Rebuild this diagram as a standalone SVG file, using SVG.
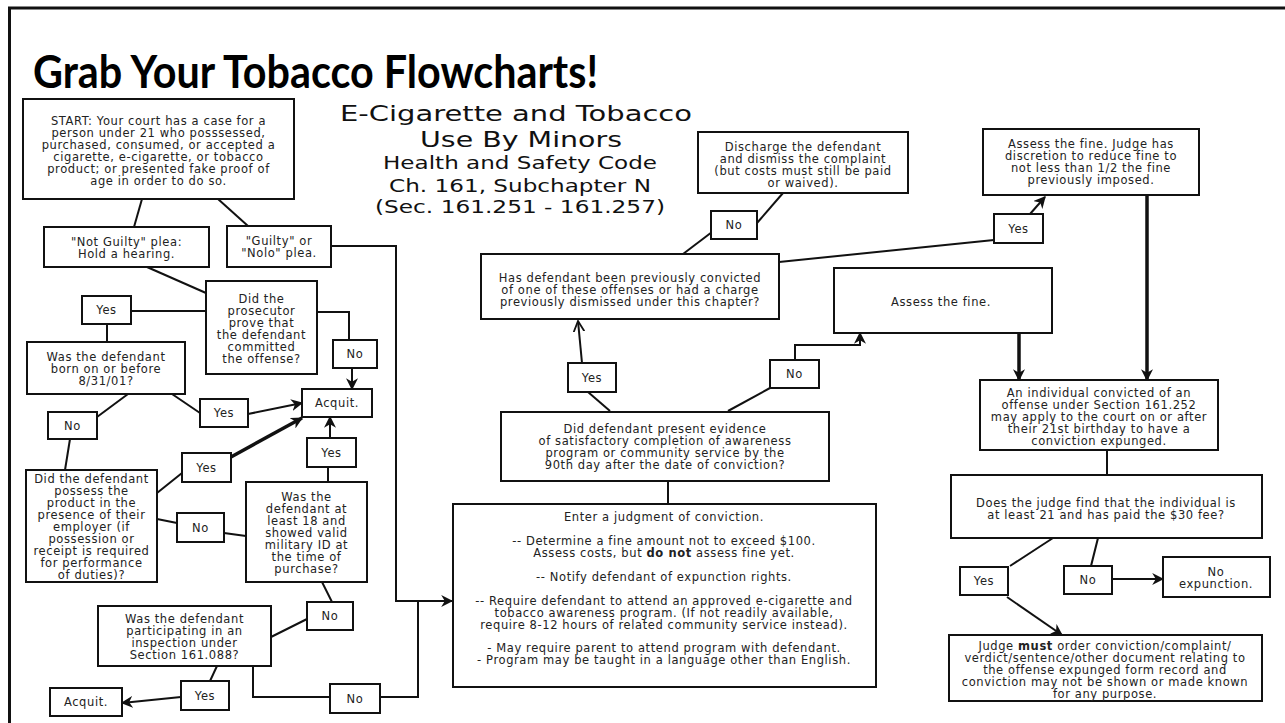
<svg xmlns="http://www.w3.org/2000/svg" width="1285" height="723" viewBox="0 0 1285 723">
<style>
.box{fill:#fff;stroke:#111;stroke-width:2}
.t{font-family:"DejaVu Sans",Verdana,sans-serif;font-size:11.5px;letter-spacing:0.6px;text-anchor:middle;fill:#222}
.ln{stroke:#111;stroke-width:2;fill:none}
.thick{stroke-width:3.5}
.sub{font-family:"DejaVu Sans",Verdana,sans-serif;text-anchor:middle;fill:#111}
</style>
<defs>
<marker id="ah" viewBox="0 0 10 10" refX="9" refY="5" markerWidth="12" markerHeight="12" markerUnits="userSpaceOnUse" orient="auto"><path d="M0,0 L10,5 L0,10 L3,5 z" fill="#111"/></marker>
<marker id="ao" viewBox="0 0 10 10" refX="9" refY="5" markerWidth="12" markerHeight="12" markerUnits="userSpaceOnUse" orient="auto"><path d="M0,0.5 L9,5 L0,9.5" fill="none" stroke="#111" stroke-width="1.5"/></marker>
</defs>
<rect width="1285" height="723" fill="#fff"/>
<path d="M9.5,723 V8 H1285" fill="none" stroke="#111" stroke-width="3"/>
<text x="33" y="88" font-family="Lato,'Liberation Sans',Arial,sans-serif" font-weight="bold" font-size="45" textLength="565" lengthAdjust="spacingAndGlyphs" fill="#000">Grab Your Tobacco Flowcharts!</text>
<g id="heading">
<text class="sub" x="516" y="121" font-size="22" textLength="352" lengthAdjust="spacingAndGlyphs">E-Cigarette and Tobacco</text>
<text class="sub" x="521" y="147" font-size="22" textLength="202" lengthAdjust="spacingAndGlyphs">Use By Minors</text>
<text class="sub" x="520" y="169" font-size="18" textLength="274" lengthAdjust="spacingAndGlyphs">Health and Safety Code</text>
<text class="sub" x="520" y="192" font-size="18" textLength="262" lengthAdjust="spacingAndGlyphs">Ch. 161, Subchapter N</text>
<text class="sub" x="520" y="213" font-size="18" textLength="290" lengthAdjust="spacingAndGlyphs">(Sec. 161.251 - 161.257)</text>
</g>
<g id="connectors">
<line class="ln" x1="142" y1="199" x2="134" y2="227"/>
<line class="ln" x1="218" y1="199" x2="248" y2="226"/>
<polyline class="ln" points="331,246 396,246 396,601 452,601" marker-end="url(#ah)"/>
<line class="ln" x1="147" y1="267" x2="206" y2="293"/>
<line class="ln" x1="206" y1="311" x2="131" y2="311"/>
<line class="ln" x1="107" y1="324" x2="107" y2="342"/>
<polyline class="ln" points="317,312 349,312 349,340"/>
<line class="ln" x1="352" y1="368" x2="352" y2="389" marker-end="url(#ah)"/>
<line class="ln" x1="172" y1="394" x2="200" y2="413"/>
<line class="ln" x1="248" y1="414" x2="302" y2="403" marker-end="url(#ah)"/>
<line class="ln" x1="128" y1="394" x2="97" y2="417"/>
<line class="ln" x1="70" y1="439" x2="65" y2="470"/>
<line class="ln" x1="157" y1="493" x2="182" y2="473"/>
<line class="ln thick" x1="231" y1="457" x2="302" y2="418" marker-end="url(#ah)"/>
<line class="ln" x1="157" y1="519" x2="177" y2="523"/>
<line class="ln" x1="224" y1="533" x2="246" y2="536"/>
<line class="ln" x1="328" y1="482" x2="328" y2="467"/>
<line class="ln" x1="330" y1="438" x2="330" y2="417" marker-end="url(#ah)"/>
<line class="ln" x1="322" y1="582" x2="332" y2="602"/>
<line class="ln" x1="307" y1="619" x2="271" y2="637"/>
<line class="ln" x1="217" y1="666" x2="210" y2="681"/>
<line class="ln" x1="181" y1="697" x2="122" y2="703" marker-end="url(#ah)"/>
<polyline class="ln" points="253,666 253,697 330,697"/>
<polyline class="ln" points="380,697 418,697 418,601"/>
<line class="ln" x1="683" y1="254" x2="712" y2="232"/>
<line class="ln" x1="757" y1="223" x2="783" y2="193"/>
<line class="ln" x1="779" y1="262" x2="994" y2="240"/>
<line class="ln" x1="1030" y1="214" x2="1045" y2="197" marker-end="url(#ah)"/>
<line class="ln thick" x1="1147" y1="195" x2="1147" y2="380" marker-end="url(#ah)"/>
<line class="ln thick" x1="1019" y1="333" x2="1019" y2="380" marker-end="url(#ah)"/>
<line class="ln" x1="728" y1="411" x2="770" y2="388"/>
<polyline class="ln" points="795,360 795,345 860,345 860,333" marker-end="url(#ah)"/>
<line class="ln" x1="582" y1="363" x2="578" y2="321" marker-end="url(#ao)"/>
<line class="ln" x1="610" y1="411" x2="588" y2="392"/>
<line class="ln" x1="668" y1="481" x2="668" y2="504"/>
<line class="ln" x1="1107" y1="450" x2="1107" y2="475"/>
<line class="ln" x1="1053" y1="538" x2="1010" y2="566"/>
<line class="ln" x1="1098" y1="538" x2="1091" y2="566"/>
<line class="ln" x1="1112" y1="579" x2="1163" y2="579" marker-end="url(#ah)"/>
<line class="ln" x1="1007" y1="597" x2="1062" y2="635" marker-end="url(#ah)"/>
</g>
<g id="start"><rect class="box" x="23" y="99" width="271" height="100"/>
<text class="t"><tspan x="158.5" y="124.5">START: Your court has a case for a</tspan><tspan x="158.5" y="136.5">person under 21 who posssessed,</tspan><tspan x="158.5" y="148.5">purchased, consumed, or accepted a</tspan><tspan x="158.5" y="160.5">cigarette, e-cigarette, or tobacco</tspan><tspan x="158.5" y="172.5">product; or presented fake proof of</tspan><tspan x="158.5" y="184.5">age in order to do so.</tspan></text></g>
<g id="notguilty"><rect class="box" x="44" y="227" width="165" height="40"/>
<text class="t"><tspan x="126.5" y="246">"Not Guilty" plea:</tspan><tspan x="126.5" y="258">Hold a hearing.</tspan></text></g>
<g id="guilty"><rect class="box" x="227" y="226" width="104" height="41"/>
<text class="t"><tspan x="279" y="245">"Guilty" or</tspan><tspan x="279" y="257">"Nolo" plea.</tspan></text></g>
<g id="prosecutor"><rect class="box" x="206" y="281" width="111" height="93"/>
<text class="t"><tspan x="261.5" y="302.5">Did the</tspan><tspan x="261.5" y="314.5">prosecutor</tspan><tspan x="261.5" y="326.5">prove that</tspan><tspan x="261.5" y="338.5">the defendant</tspan><tspan x="261.5" y="350.5">committed</tspan><tspan x="261.5" y="362.5">the offense?</tspan></text></g>
<g id="yes1"><rect class="box" x="82" y="296" width="49" height="28"/><text class="t" x="106.5" y="314">Yes</text></g>
<g id="born"><rect class="box" x="27" y="342" width="158" height="52"/>
<text class="t"><tspan x="106" y="360.5">Was the defendant</tspan><tspan x="106" y="372.5">born on or before</tspan><tspan x="106" y="384.5">8/31/01?</tspan></text></g>
<g id="no1"><rect class="box" x="333" y="340" width="44" height="28"/><text class="t" x="355" y="358">No</text></g>
<g id="acquit1"><rect class="box" x="302" y="389" width="70" height="28"/><text class="t" x="337" y="407">Acquit.</text></g>
<g id="yes2"><rect class="box" x="200" y="399" width="48" height="28"/><text class="t" x="224" y="417">Yes</text></g>
<g id="no2"><rect class="box" x="48" y="412" width="49" height="27"/><text class="t" x="72.5" y="429.5">No</text></g>
<g id="possess"><rect class="box" x="26" y="470" width="131" height="112"/>
<text class="t"><tspan x="91.5" y="482.5">Did the defendant</tspan><tspan x="91.5" y="494.5">possess the</tspan><tspan x="91.5" y="506.5">product in the</tspan><tspan x="91.5" y="518.5">presence of  their</tspan><tspan x="91.5" y="530.5">employer (if</tspan><tspan x="91.5" y="542.5">possession or</tspan><tspan x="91.5" y="554.5">receipt is required</tspan><tspan x="91.5" y="566.5">for performance</tspan><tspan x="91.5" y="578.5">of duties)?</tspan></text></g>
<g id="yes3"><rect class="box" x="182" y="453" width="49" height="29"/><text class="t" x="206.5" y="471.5">Yes</text></g>
<g id="no3"><rect class="box" x="177" y="513" width="47" height="29"/><text class="t" x="200.5" y="531.5">No</text></g>
<g id="military"><rect class="box" x="246" y="482" width="121" height="100"/>
<text class="t"><tspan x="306.5" y="500.5">Was the</tspan><tspan x="306.5" y="512.5">defendant at</tspan><tspan x="306.5" y="524.5">least 18 and</tspan><tspan x="306.5" y="536.5">showed valid</tspan><tspan x="306.5" y="548.5">military ID at</tspan><tspan x="306.5" y="560.5">the time of</tspan><tspan x="306.5" y="572.5">purchase?</tspan></text></g>
<g id="yes4"><rect class="box" x="307" y="438" width="49" height="29"/><text class="t" x="331.5" y="456.5">Yes</text></g>
<g id="no4"><rect class="box" x="307" y="602" width="46" height="28"/><text class="t" x="330" y="620">No</text></g>
<g id="inspection"><rect class="box" x="98" y="606" width="173" height="60"/>
<text class="t"><tspan x="184.5" y="622.5">Was the defendant</tspan><tspan x="184.5" y="634.5">participating in an</tspan><tspan x="184.5" y="646.5">inspection under</tspan><tspan x="184.5" y="658.5">Section 161.088?</tspan></text></g>
<g id="yes5"><rect class="box" x="181" y="681" width="48" height="29"/><text class="t" x="205" y="699.5">Yes</text></g>
<g id="acquit2"><rect class="box" x="50" y="688" width="72" height="28"/><text class="t" x="86" y="706">Acquit.</text></g>
<g id="no5"><rect class="box" x="330" y="684" width="50" height="29"/><text class="t" x="355" y="702.5">No</text></g>
<g id="prior"><rect class="box" x="481" y="254" width="298" height="65"/>
<text class="t"><tspan x="630" y="281.5">Has defendant been previously convicted</tspan><tspan x="630" y="293.5">of one of these offenses or had a charge</tspan><tspan x="630" y="305.5">previously dismissed under this chapter?</tspan></text></g>
<g id="discharge"><rect class="box" x="698" y="132" width="210" height="61"/>
<text class="t"><tspan x="803" y="150.5">Discharge the defendant</tspan><tspan x="803" y="162.5">and dismiss the complaint</tspan><tspan x="803" y="174.5">(but costs must still be paid</tspan><tspan x="803" y="186.5">or waived).</tspan></text></g>
<g id="notop"><rect class="box" x="711" y="211" width="46" height="28"/><text class="t" x="734" y="229">No</text></g>
<g id="yestop"><rect class="box" x="994" y="214" width="49" height="29"/><text class="t" x="1018.5" y="232.5">Yes</text></g>
<g id="assessjudge"><rect class="box" x="983" y="129" width="216" height="66"/>
<text class="t"><tspan x="1091" y="147.5">Assess the fine. Judge has</tspan><tspan x="1091" y="159.5">discretion to reduce fine to</tspan><tspan x="1091" y="171.5">not less than 1/2 the fine</tspan><tspan x="1091" y="183.5">previously imposed.</tspan></text></g>
<g id="assessfine"><rect class="box" x="834" y="268" width="218" height="65"/><text class="t" x="941" y="306">Assess the fine.</text></g>
<g id="nomid"><rect class="box" x="770" y="360" width="49" height="28"/><text class="t" x="794.5" y="378">No</text></g>
<g id="yesmid"><rect class="box" x="568" y="363" width="48" height="29"/><text class="t" x="592" y="381.5">Yes</text></g>
<g id="evidence"><rect class="box" x="501" y="412" width="328" height="69"/>
<text class="t"><tspan x="665" y="432.5">Did defendant present evidence</tspan><tspan x="665" y="444.5">of satisfactory completion of awareness</tspan><tspan x="665" y="456.5">program or community service by the</tspan><tspan x="665" y="468.5">90th day after the date of conviction?</tspan></text></g>
<g id="judgment"><rect class="box" x="453" y="504" width="423" height="183"/>
<text class="t"><tspan x="664" y="520.5">Enter a judgment of conviction.</tspan><tspan x="664" y="544.5">-- Determine a fine amount not to exceed $100.</tspan><tspan x="664" y="556.5">Assess costs, but <tspan font-weight="bold">do not</tspan> assess fine yet.</tspan><tspan x="664" y="580.5">-- Notify defendant of expunction rights.</tspan><tspan x="664" y="604.5">-- Require defendant to attend an approved e-cigarette and</tspan><tspan x="664" y="616.5">tobacco awareness program. (If not readily available,</tspan><tspan x="664" y="628.5">require 8-12 hours of related community service instead).</tspan><tspan x="664" y="651.5">- May require parent to attend program with defendant.</tspan><tspan x="664" y="663.5">- Program may be taught in a language other than English.</tspan></text></g>
<g id="individual"><rect class="box" x="980" y="380" width="238" height="70"/>
<text class="t"><tspan x="1099" y="396.5">An individual convicted of an</tspan><tspan x="1099" y="408.5">offense under Section 161.252</tspan><tspan x="1099" y="420.5">may apply to the court on or after</tspan><tspan x="1099" y="432.5">their 21st birthday to have a</tspan><tspan x="1099" y="444.5">conviction expunged.</tspan></text></g>
<g id="doesjudge"><rect class="box" x="951" y="475" width="311" height="63"/>
<text class="t"><tspan x="1106" y="506.5">Does the judge find that the individual is</tspan><tspan x="1106" y="518.5">at least 21 and has paid the $30 fee?</tspan></text></g>
<g id="yesr"><rect class="box" x="960" y="567" width="48" height="28"/><text class="t" x="984" y="585">Yes</text></g>
<g id="nor"><rect class="box" x="1064" y="566" width="48" height="28"/><text class="t" x="1088" y="584">No</text></g>
<g id="noexp"><rect class="box" x="1163" y="557" width="107" height="40"/>
<text class="t"><tspan x="1216" y="575.5">No</tspan><tspan x="1216" y="587.5">expunction.</tspan></text></g>
<g id="expunge"><rect class="box" x="949" y="635" width="313" height="66"/>
<text class="t"><tspan x="1105" y="650">Judge <tspan font-weight="bold">must</tspan> order conviction/complaint/</tspan><tspan x="1105" y="662">verdict/sentence/other document relating to</tspan><tspan x="1105" y="674">the offense expunged form record and</tspan><tspan x="1105" y="686">conviction may not be shown or made known</tspan><tspan x="1105" y="698">for any purpose.</tspan></text></g>
</svg>
